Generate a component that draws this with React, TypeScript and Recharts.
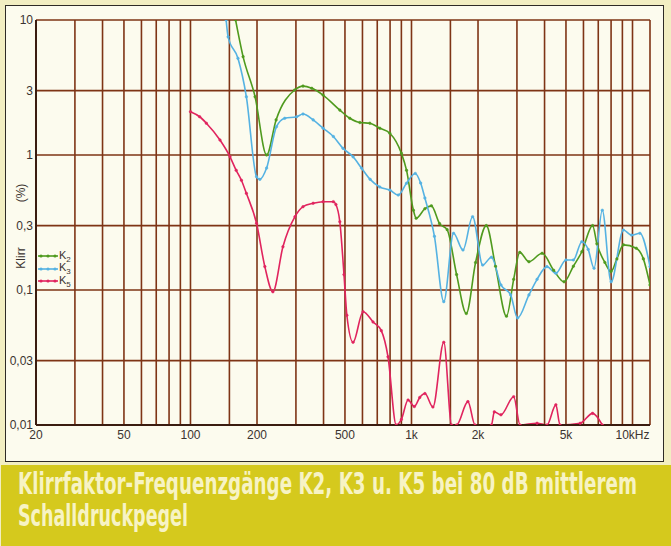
import { LineChart, Line, XAxis, YAxis, CartesianGrid } from 'recharts';

// Klirrfaktor K2 (%), Frequenz in Hz
const k2Freq = [160, 173, 196, 221, 244, 296, 323, 354, 398, 474, 526, 584, 648, 719, 798, 900, 950, 1020, 1050, 1150, 1230, 1340, 1450, 1600, 1770, 1950, 2180, 2400, 2690, 2900, 3090, 3400, 3900, 4400, 4900, 5400, 5900, 6600, 6900, 7500, 8000, 8500, 9100, 10400, 11200, 12000];
const k2Values = [10, 5.35, 2.7, 1.0, 1.82, 3.03, 3.24, 3.12, 2.78, 2.15, 1.87, 1.74, 1.72, 1.58, 1.45, 1.03, 0.77, 0.39, 0.34, 0.4, 0.42, 0.31, 0.28, 0.13, 0.067, 0.16, 0.3, 0.15, 0.064, 0.12, 0.19, 0.162, 0.187, 0.14, 0.115, 0.15, 0.192, 0.3, 0.22, 0.16, 0.137, 0.17, 0.216, 0.204, 0.17, 0.109];

// K3
const k3Freq = [145, 148, 164, 179, 199, 206, 221, 245, 267, 302, 323, 359, 398, 443, 490, 544, 594, 650, 718, 798, 871, 949, 1040, 1100, 1150, 1270, 1400, 1550, 1710, 1890, 2100, 2300, 2540, 2810, 3020, 3400, 3700, 4100, 4500, 5000, 5400, 5900, 6300, 6700, 7300, 8000, 9100, 9900, 10800, 12000];
const k3Values = [10, 7.5, 5.2, 2.7, 0.69, 0.66, 0.8, 1.62, 1.87, 1.92, 2.01, 1.82, 1.58, 1.37, 1.12, 0.97, 0.8, 0.66, 0.58, 0.55, 0.505, 0.617, 0.73, 0.62, 0.48, 0.25, 0.082, 0.263, 0.198, 0.349, 0.153, 0.175, 0.109, 0.092, 0.062, 0.092, 0.12, 0.149, 0.133, 0.167, 0.167, 0.228, 0.2, 0.145, 0.39, 0.115, 0.278, 0.255, 0.263, 0.149];

// K5
const k5Freq = [100, 110, 118, 136, 151, 161, 170, 179, 199, 217, 236, 262, 297, 323, 359, 398, 443, 455, 474, 495, 510, 544, 604, 670, 730, 783, 853, 900, 965, 1030, 1090, 1150, 1250, 1400, 1520, 1600, 1800, 1940, 2300, 2370, 2540, 2900, 3100, 3700, 4100, 4500, 4700, 5800, 6600, 7300];
const k5Values = [2.09, 1.92, 1.72, 1.29, 0.97, 0.77, 0.65, 0.52, 0.312, 0.149, 0.097, 0.209, 0.349, 0.414, 0.439, 0.451, 0.451, 0.43, 0.32, 0.13, 0.065, 0.041, 0.069, 0.058, 0.05, 0.032, 0.01, 0.011, 0.0153, 0.0137, 0.016, 0.0171, 0.0136, 0.041, 0.01, 0.01, 0.0149, 0.01, 0.01, 0.0125, 0.0119, 0.0162, 0.01, 0.0103, 0.01, 0.0141, 0.01, 0.0103, 0.0122, 0.01];

const xTicks = [20, 30, 40, 50, 60, 70, 80, 90, 100, 150, 200, 300, 400, 500, 600, 700, 800, 900, 1000, 1500, 2000, 3000, 4000, 5000, 6000, 7000, 8000, 9000, 10000, 12000];
const xLabels: Record<number, string> = { 20: '20', 50: '50', 100: '100', 200: '200', 500: '500', 1000: '1k', 2000: '2k', 5000: '5k', 10000: '10kHz' };
const yTicks = [0.01, 0.03, 0.1, 0.3, 1, 3, 10];

const series = [
  { key: 'K2', sub: '2', color: '#4f9a1e', freq: k2Freq, values: k2Values },
  { key: 'K3', sub: '3', color: '#55b2e2', freq: k3Freq, values: k3Values },
  { key: 'K5', sub: '5', color: '#e0245e', freq: k5Freq, values: k5Values },
];

const GRID = '#7e3415';
const TEXT = '#3b3330';
const FONT = 'Liberation Sans, Arial, sans-serif';
const CAPTION_FONT = "'Liberation Sans Narrow', 'DejaVu Sans Condensed', sans-serif";

const rotated = (cx: number, cy: number) => ({
  position: 'absolute' as const,
  left: cx,
  top: cy,
  transform: 'translate(-50%, -50%) rotate(-90deg)',
  fontFamily: FONT,
  fontSize: 12,
  color: TEXT,
  whiteSpace: 'nowrap' as const,
});

export default function App() {
  return (
    <div style={{ position: 'absolute', left: 0, top: 0, width: 671, height: 546, background: '#f2eec2', overflow: 'hidden' }}>
      <div style={{ position: 'absolute', left: 5, top: 5, width: 657, height: 455, border: '1.5px solid #2e2a26', background: '#fcfbee' }} />

      <div style={{ position: 'absolute', left: 0, top: 0 }}>
        <LineChart width={671} height={460} margin={{ top: 20, right: 21, left: 6, bottom: 15 }}>
          <CartesianGrid stroke={GRID} strokeWidth={1.6} />
          <XAxis
            dataKey="f"
            type="number"
            scale="log"
            domain={[20, 12000]}
            ticks={xTicks}
            interval={0}
            allowDataOverflow
            tickFormatter={(v: number) => xLabels[v] ?? ''}
            tickLine={false}
            tickSize={4}
            tickMargin={1}
            height={20}
            axisLine={{ stroke: '#3a1c10', strokeWidth: 2 }}
            tick={{ fill: TEXT, fontSize: 12, fontFamily: FONT }}
          />
          <YAxis
            type="number"
            scale="log"
            domain={[0.01, 10]}
            ticks={yTicks}
            interval={0}
            allowDataOverflow
            tickFormatter={(v: number) => String(v).replace('.', ',')}
            tickLine={false}
            tickSize={3}
            tickMargin={0}
            width={30}
            axisLine={{ stroke: '#3a1c10', strokeWidth: 2 }}
            tick={{ fill: TEXT, fontSize: 12, fontFamily: FONT }}
          />
          {series.map((s) => (
            <Line
              key={s.key}
              name={s.key}
              data={s.freq.map((f, i) => ({ f, v: s.values[i] }))}
              dataKey="v"
              type="monotone"
              stroke={s.color}
              strokeWidth={1.6}
              dot={{ r: 1.3, fill: s.color, stroke: s.color, strokeWidth: 0.5 }}
              isAnimationActive={false}
            />
          ))}
        </LineChart>
      </div>

      {/* Legende */}
      <div style={{ position: 'absolute', left: 38, top: 250, fontFamily: FONT, fontSize: 11, color: TEXT }}>
        {series.map((s) => (
          <div key={s.key} style={{ display: 'flex', alignItems: 'center', height: 12.5 }}>
            <svg width={20} height={6}>
              <line x1={0} y1={3} x2={20} y2={3} stroke={s.color} strokeWidth={1.6} />
              {[3, 10, 17].map((cx) => <circle key={cx} cx={cx} cy={3} r={1.6} fill={s.color} />)}
            </svg>
            <span style={{ marginLeft: 1 }}>K<sub style={{ fontSize: 8 }}>{s.sub}</sub></span>
          </div>
        ))}
      </div>

      <div style={rotated(21, 193)}>(%)</div>
      <div style={rotated(21, 258)}>Klirr</div>

      <svg style={{ position: 'absolute', left: 0, top: 465 }} width={671} height={81}>
        <rect x={1} y={0} width={670} height={81} fill="#d5c91d" />
        <g transform="scale(1, 1.4)">
          <text x={18} y={20.5} fontSize={21} fontWeight="bold" fill="#f7f3c4" fontFamily={CAPTION_FONT} textLength={619} lengthAdjust="spacingAndGlyphs">
            Klirrfaktor-Frequenzgänge K2, K3 u. K5 bei 80 dB mittlerem
          </text>
          <text x={18} y={43.5} fontSize={21} fontWeight="bold" fill="#f7f3c4" fontFamily={CAPTION_FONT} textLength={170} lengthAdjust="spacingAndGlyphs">
            Schalldruckpegel
          </text>
        </g>
      </svg>
    </div>
  );
}
